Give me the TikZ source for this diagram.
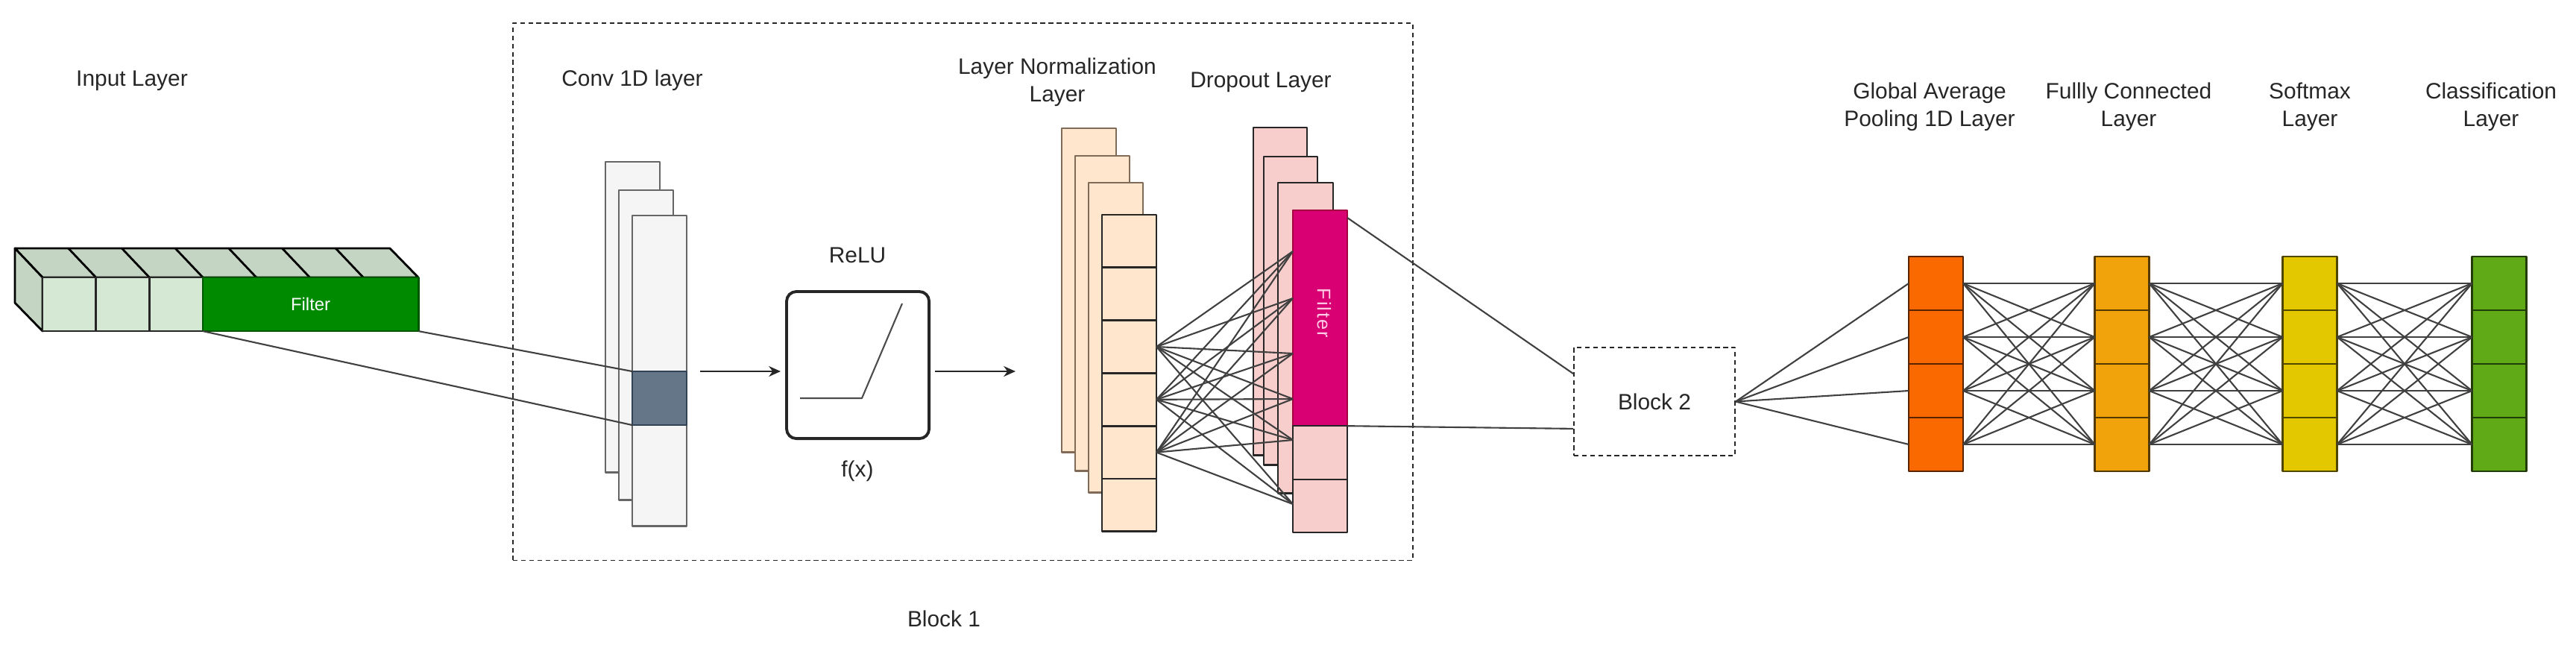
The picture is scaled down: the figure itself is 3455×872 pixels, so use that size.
\documentclass[tikz,border=0pt]{standalone}
\usepackage{fontspec}
\setmainfont{Liberation Sans}
\usetikzlibrary{arrows.meta}
\definecolor{infront}{HTML}{D5E8D4}
\definecolor{intop}{HTML}{C4D6C3}
\definecolor{filtgreen}{HTML}{008A00}
\definecolor{filtdark}{HTML}{005700}
\definecolor{convfill}{HTML}{F5F5F5}
\definecolor{convline}{HTML}{666666}
\definecolor{slate}{HTML}{647687}
\definecolor{slatedark}{HTML}{314354}
\definecolor{lnfill}{HTML}{FFE6CC}
\definecolor{lnline}{HTML}{806A58}
\definecolor{drfill}{HTML}{F8CECC}
\definecolor{magenta}{HTML}{D80073}
\definecolor{magdark}{HTML}{A50040}
\definecolor{filttext}{HTML}{FFCCE6}
\definecolor{gapfill}{HTML}{FA6800}
\definecolor{fcfill}{HTML}{F0A30A}
\definecolor{smfill}{HTML}{E3C800}
\definecolor{clfill}{HTML}{60A917}
\begin{document}
\begin{tikzpicture}[x=0.01cm,y=-0.01cm,line join=round,>={Stealth[length=4.5pt,width=4pt]},
	font=\fontsize{8.5}{10.4}\selectfont,text=black!85]
	\tikzset{box/.style={draw=black!85,anchor=north west,outer sep=0pt,inner sep=0pt,line width=.8pt},
		cell/.style={box,anchor=center,minimum width=.73cm,minimum height=.72cm},
		edge/.style={draw=black!75,line width=.6pt},
		lab/.style={align=center,inner sep=0pt},
		blk/.style={draw=black!85,dashed,line width=.5pt,dash pattern=on 1.8pt off 1.3pt}}
	\useasboundingbox (0,0) rectangle (3455,872);
	% input layer
	\filldraw[fill=intop,line width=.8pt] (20,333)--(523,333)--(561,372)--(57,372)--cycle;
	\filldraw[fill=intop,line width=.8pt] (20,333)--(57,372)--(57,444)--(20,406)--cycle;
	\foreach \i in {1,...,6}
	\draw[line width=.8pt] (20+71.7*\i,333)--(57+71.7*\i,372);
	\foreach \i in {1,2,3}
	\node[box,fill=infront,minimum width=.717cm,minimum height=.72cm] (in\i) at ({57+71.7*(\i-1)},372) {};
	\node[box,fill=filtgreen,draw=filtdark,minimum width=2.89cm,minimum height=.72cm,text=white,font=\fontsize{6.8}{8}\selectfont] (infilt) at (272,372) {Filter};
	\node[lab] (inlab) at (177,108) {Input Layer};
	% block 1
	\node[box,blk,minimum width=12.06cm,minimum height=7.2cm] (blk1) at (688,31) {};
	\node[lab] (blk1lab) at (1266,830) {Block 1};
	% conv 1D
	\node[box,fill=convfill,draw=convline,minimum width=.73cm,minimum height=4.16cm] (conv1) at (812,217) {};
	\node[box,fill=convfill,draw=convline,minimum width=.73cm,minimum height=4.15cm] (conv2) at (830,255) {};
	\node[box,fill=convfill,draw=convline,minimum width=.73cm,minimum height=4.16cm] (conv3) at (848,289) {};
	\node[box,fill=slate,draw=slatedark,minimum width=.73cm,minimum height=.72cm] (convcell) at (848,498) {};
	\node[lab] (convlab) at (848,108) {Conv 1D layer};
	\draw[edge] (infilt.south east)--(convcell.north west);
	\draw[edge] (infilt.south west)--(convcell.south west);
	% relu
	\node[box,rounded corners=.13cm,line width=1.1pt,minimum width=1.91cm,minimum height=1.97cm] (relu) at (1055,391) {};
	\draw[black!70,line width=.6pt] (1073,534)--(1156,534)--(1210,407);
	\node[lab] (relulab) at (1150,342) {ReLU};
	\node[lab] (fxlab) at (1150,632) {f(x)};
	% layer normalization
	\node[box,fill=lnfill,draw=lnline,minimum width=.73cm,minimum height=4.34cm] (ln1) at (1424,172) {};
	\node[box,fill=lnfill,draw=lnline,minimum width=.73cm,minimum height=4.22cm] (ln2) at (1442,209) {};
	\node[box,fill=lnfill,draw=lnline,minimum width=.73cm,minimum height=4.15cm] (ln3) at (1460,245) {};
	\foreach \i in {1,...,6}
	\node[cell,fill=lnfill,minimum height=.708cm] (lnc\i) at (1514.5,{288+70.8*(\i-.5)}) {};
	\node[lab] (lnlab) at (1418,110) {Layer Normalization\\Layer};
	\draw[->,black!85,line width=.6pt,shorten <=.18cm,shorten >=.08cm] (convcell.north east)--(convcell.north east -| relu.west);
	\draw[->,black!85,line width=.6pt,shorten <=.08cm,shorten >=.62cm] (convcell.north east -| relu.east)--(convcell.north east -| ln1.west);
	% dropout
	\node[box,fill=drfill,minimum width=.72cm,minimum height=4.39cm] (dr1) at (1681,171) {};
	\node[box,fill=drfill,minimum width=.72cm,minimum height=4.13cm] (dr2) at (1695,210) {};
	\node[box,fill=drfill,minimum width=.74cm,minimum height=4.16cm] (dr3) at (1714,245) {};
	\node[box,fill=magenta,draw=magdark,minimum width=.73cm,minimum height=2.89cm] (drfilt) at (1734,282) {};
	\node[rotate=-90,text=filttext,inner sep=0pt,font=\fontsize{7.2}{8}\selectfont] (drfiltlab) at (1776,420) {F\kern.6pt i\kern.6pt l\kern.6pt t\kern.6pt e\kern.6pt r};
	\node[box,fill=drfill,minimum width=.73cm,minimum height=.72cm] (drc1) at (1734,571) {};
	\node[box,fill=drfill,minimum width=.73cm,minimum height=.71cm] (drc2) at (1734,643) {};
	\node[lab] (drlab) at (1691,110) {Dropout Layer};
	\foreach \y [count=\j] in {337,400,474,535,590,676}
	\coordinate (dt\j) at (1734,\y);
	\foreach \i in {3,4,5}
	\foreach \j in {1,...,6}
	\draw[edge] (lnc\i.east)--(dt\j);
	% block 2
	\node[blk,minimum width=2.16cm,minimum height=1.45cm,inner sep=0pt] (blk2) at (2219,538.5) {Block 2};
	\draw[edge] ([yshift=-.1cm]drfilt.north east)--([yshift=-.36cm]blk2.north west);
	\draw[edge] (drfilt.south east)--([yshift=.37cm]blk2.south west);
	% dense part
	\foreach \n/\x/\c in {gap/2596.5/gapfill,fc/2846/fcfill,sm/3098/smfill,cl/3352/clfill}
	\foreach \i in {1,...,4}
	\node[cell,fill=\c,draw=\c!35!black] (\n\i) at (\x,{344+72*(\i-.5)}) {};
	\foreach \i in {1,...,4}
	\draw[edge] (blk2.east)--(gap\i.west);
	\foreach \a/\b in {gap/fc,fc/sm,sm/cl}
	\foreach \i in {1,...,4}
	\foreach \j in {1,...,4}
	\draw[edge] (\a\i.east)--(\b\j.west);
	\node[lab] (gaplab) at (2588,143) {Global Average\\Pooling 1D Layer};
	\node[lab] (fclab) at (2855,143) {Fullly Connected\\Layer};
	\node[lab] (smlab) at (3098,143) {Softmax\\Layer};
	\node[lab] (cllab) at (3341,143) {Classification\\Layer};
\end{tikzpicture}
\end{document}
